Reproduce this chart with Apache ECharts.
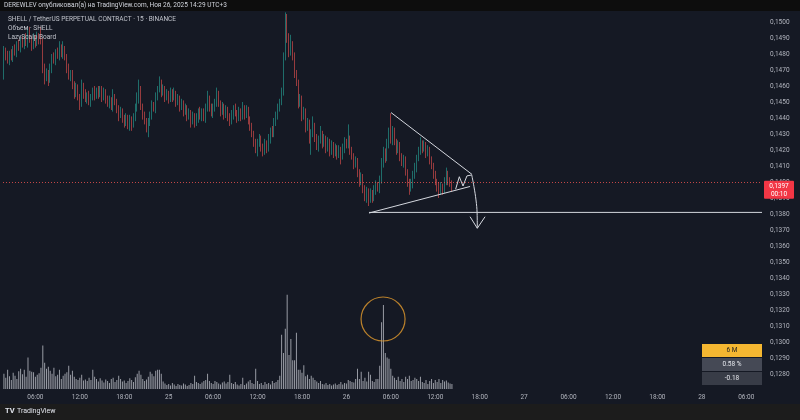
<!DOCTYPE html>
<html><head><meta charset="utf-8">
<script src="https://cdn.jsdelivr.net/npm/echarts@6/dist/echarts.min.js"></script>
<style>html,body{margin:0;padding:0;background:#0d0d0d}#c{width:800px;height:420px}</style>
</head><body><div id="c"></div><script>
// ---- data ----
const slotCount = 410;               // 15-min slots from 24 Nov 01:45 to 28 Nov ~08:15
const firstOpen = 0.1466;
const closes = [
0.1482,0.1479,0.1476,0.1480,0.1478,0.1483,0.1481,0.1486,0.1484,0.1488,
0.1486,0.1490,0.1487,0.1492,0.1489,0.1485,0.1490,0.1487,0.1491,0.1489,
0.1488,0.1472,0.1465,0.1468,0.1464,0.1471,0.1478,0.1476,0.1481,0.1479,
0.1484,0.1480,0.1483,0.1478,0.1471,0.1466,0.1468,0.1460,0.1456,0.1459,
0.1453,0.1449,0.1460,0.1455,0.1452,0.1454,0.1450,0.1453,0.1456,0.1454,
0.1457,0.1455,0.1458,0.1453,0.1456,0.1452,0.1449,0.1451,0.1447,0.1453,
0.1450,0.1446,0.1442,0.1444,0.1440,0.1437,0.1440,0.1436,0.1439,0.1436,
0.1441,0.1446,0.1452,0.1458,0.1447,0.1442,0.1438,0.1434,0.1437,0.1442,
0.1448,0.1446,0.1453,0.1458,0.1462,0.1456,0.1458,0.1453,0.1455,0.1452,
0.1456,0.1453,0.1455,0.1450,0.1452,0.1447,0.1449,0.1444,0.1446,0.1441,
0.1443,0.1438,0.1441,0.1437,0.1440,0.1444,0.1441,0.1444,0.1440,0.1446,
0.1452,0.1447,0.1443,0.1446,0.1450,0.1455,0.1449,0.1444,0.1447,0.1442,
0.1445,0.1441,0.1438,0.1442,0.1446,0.1443,0.1440,0.1444,0.1441,0.1446,
0.1442,0.1445,0.1439,0.1435,0.1430,0.1425,0.1421,0.1424,0.1427,0.1422,
0.1419,0.1424,0.1421,0.1427,0.1432,0.1430,0.1437,0.1442,0.1446,0.1450,
0.1456,0.1478,0.1497,0.1490,0.1481,0.1486,0.1479,0.1468,0.1462,0.1449,
0.1452,0.1441,0.1444,0.1434,0.1437,0.1427,0.1430,0.1435,0.1428,0.1422,
0.1426,0.1430,0.1424,0.1427,0.1421,0.1425,0.1419,0.1423,0.1418,0.1421,
0.1417,0.1420,0.1416,0.1421,0.1425,0.1423,0.1427,0.1420,0.1416,0.1411,
0.1413,0.1406,0.1400,0.1403,0.1396,0.1391,0.1394,0.1390,0.1393,0.1390,
0.1395,0.1398,0.1396,0.1401,0.1412,0.1418,0.1415,0.1424,0.1430,0.1426,
0.1432,0.1425,0.1420,0.1423,0.1416,0.1412,0.1414,0.1406,0.1400,0.1396,
0.1399,0.1404,0.1409,0.1415,0.1419,0.1424,0.1421,0.1423,0.1418,0.1420,
0.1414,0.1410,0.1405,0.1400,0.1397,0.1394,0.1397,0.1395,0.1400,0.1405,
0.1401,0.1399,0.1397
];
// wick lengths above / below the candle body, in price steps of 0.0001
const wickUpSteps = [
3,2,3,2,3,2,3,2,3,2, 3,2,3,4,5,2,3,2,3,2, 8,2,2,3,2,3,2,3,2,3, 4,2,5,2,2,3,2,2,3,3,
2,2,4,2,3,2,3,2,3,4, 2,3,2,2,3,2,2,3,2,5, 2,2,2,3,2,2,3,2,3,2, 2,3,4,6,2,2,2,2,3,2,
3,2,3,2,4,2,3,2,3,2, 3,2,4,2,3,2,3,2,3,2, 3,2,3,2,3,2,3,2,2,3, 5,2,2,3,2,4,2,2,3,2,
3,2,2,3,2,3,2,3,2,4, 2,3,2,2,2,2,2,3,3,2, 2,3,2,3,2,3,3,2,3,2, 3,3,9,8,3,6,2,2,2,2,
3,2,3,2,3,2,3,6,2,2, 3,5,2,3,2,3,2,3,2,3, 2,3,2,3,3,2,9,2,2,2, 3,2,2,3,2,2,3,2,3,2,
3,3,2,3,3,4,3,3,4,13, 3,2,2,3,2,2,3,2,2,2, 3,3,3,2,3,4,2,3,2,3, 2,2,2,2,2,3,3,2,3,4,
2,2,2
];
const wickDownSteps = [
2,3,2,3,2,3,2,3,2,3, 2,3,2,3,2,3,2,3,2,3, 2,4,4,2,4,2,3,2,3,2, 3,2,3,2,3,2,3,2,4,3,
2,4,2,3,2,3,2,3,2,3, 2,3,2,3,2,3,2,3,2,3, 2,3,4,2,3,3,2,3,4,4, 2,3,2,3,2,3,2,3,6,2,
3,2,3,2,2,3,2,3,2,3, 2,3,2,3,2,3,2,3,2,3, 2,4,2,3,2,3,2,3,2,3, 2,3,2,3,2,3,2,3,2,3,
2,3,3,2,3,2,3,2,3,2, 3,2,3,3,2,3,3,5,2,3, 3,2,3,2,3,2,2,2,3,2, 2,2,2,3,3,2,3,3,2,3,
2,3,2,3,2,3,10,2,3,2, 3,2,3,2,3,2,3,2,3,2, 3,2,5,2,3,2,2,3,2,3, 2,3,3,2,3,3,4,5,3,3,
2,3,2,3,2,3,3,2,3,2, 3,2,3,2,3,2,3,2,3,4, 2,3,2,3,2,2,3,2,3,2, 3,2,3,2,3,4,2,3,2,2,
3,2,3
];
// volume in thousands
const volumesK = [
300,220,380,250,180,320,260,200,350,400, 290,380,240,620,360,340,330,240,280,310,
420,860,520,400,440,360,300,420,250,280, 380,200,260,300,330,460,280,360,240,200,
180,220,280,170,190,160,220,180,380,240, 200,150,210,170,130,190,160,120,200,220,
140,180,260,200,150,170,120,160,210,180, 140,230,300,360,280,200,160,190,240,340,
300,250,360,380,380,300,150,110,80,100, 70,120,90,60,100,80,70,110,90,60,
80,120,100,260,140,120,100,130,160,180, 300,160,120,100,160,140,110,90,130,150,
110,140,280,120,100,140,90,70,100,220, 80,110,150,180,120,100,400,160,100,120,
80,140,100,120,90,160,120,140,180,260, 1070,710,1190,1860,670,990,570,570,1110,380,
380,320,470,250,280,200,260,220,180,150, 120,160,100,90,120,80,100,70,90,110,
80,100,140,90,120,110,180,160,140,130, 200,400,200,340,160,220,150,340,280,160,
140,200,200,460,1320,1660,710,620,600,400, 260,220,180,240,160,200,140,240,200,260,
160,180,220,200,160,240,140,120,180,100, 160,200,120,180,140,200,120,180,150,170,
130,110,98.79
];
const lastPrice = 0.1397;
const countdown = '00:10';
const levelPrice = 0.1381;
const lastVolumeK = 98.79;
// chart drawings as [slot index, price]
const triangleUpper = [[209.1, 0.14434], [252.9, 0.14047]];
const triangleLower = [[197.2, 0.13806], [251.8, 0.13972]];
const levelLine = [[197.2, 0.1381], [409.5, 0.1381]];
const zigzag = [[244.0, 0.13955], [246.0, 0.14033], [248.0, 0.13975], [250.1, 0.14038], [252.7, 0.14044]];
const arrowPath = [[252.7, 0.14044], [253.9, 0.13971], [255.0, 0.13888], [255.6, 0.13806], [255.7, 0.13711]];
const arrowHead = [[251.8, 0.13783], [255.7, 0.13711], [259.9, 0.13783]];
const volumeCircle = [[204.8, 1383]];

// ---- build ----
const pad = n => (n < 10 ? '0' : '') + n;
const categories = [];
const t0 = Date.UTC(2025, 10, 24, 1, 45);
for (let k = 0; k < slotCount; k++) {
  const d = new Date(t0 + k * 900000);
  categories.push(pad(d.getUTCDate()) + ' ' + pad(d.getUTCHours()) + ':' + pad(d.getUTCMinutes()));
}
const candles = closes.map((c, i) => {
  const o = i === 0 ? firstOpen : closes[i - 1];
  const hi = Math.max(o, c) + wickUpSteps[i] * 0.0001;
  const lo = Math.min(o, c) - wickDownSteps[i] * 0.0001;
  return [o, c, lo, hi];
});
const FONT = 'Roboto, "Noto Sans", sans-serif';
const fmtPrice = v => v.toFixed(4).replace('.', ',');

const chart = echarts.init(document.getElementById('c'), null, {renderer: 'canvas', width: 800, height: 420});
const drawStyle = {color: '#d4d7de', width: 1};
function drawing(data, smooth) {
  return {type: 'line', xAxisIndex: 2, yAxisIndex: 0, data, symbol: 'none', silent: true,
    smooth: smooth || false, lineStyle: drawStyle, z: 5};
}
chart.setOption({
  animation: false,
  backgroundColor: '#151924',
  textStyle: {fontFamily: FONT},
  grid: [
    {left: 3, right: 38, top: 6, height: 400},
    {left: 3, right: 38, top: 289, height: 100}
  ],
  xAxis: [
    {type: 'category', gridIndex: 0, data: categories, boundaryGap: true, show: false},
    {type: 'category', gridIndex: 1, data: categories, boundaryGap: true,
      axisLine: {show: false}, axisTick: {show: false}, splitLine: {show: false},
      axisLabel: {
        margin: 5, fontSize: 6.5, color: '#b2b5be', fontFamily: FONT,
        interval: (idx, val) => { const hm = val.split(' ')[1]; const h = +hm.slice(0, 2); return hm.slice(3) === '00' && h % 6 === 0; },
        formatter: val => { const p = val.split(' '); return p[1] === '00:00' ? String(+p[0]) : p[1]; }
      }},
    {type: 'value', gridIndex: 0, min: -0.5, max: slotCount - 0.5, show: false},
    {type: 'value', gridIndex: 1, min: -0.5, max: slotCount - 0.5, show: false}
  ],
  yAxis: [
    {type: 'value', gridIndex: 0, position: 'right', min: 0.126, max: 0.151, interval: 0.001,
      axisLine: {show: false}, axisTick: {show: false}, splitLine: {show: false},
      axisLabel: {margin: 8, fontSize: 6.5, color: '#b2b5be', fontFamily: FONT,
        formatter: v => (v > 0.15005 || v < 0.12795) ? '' : fmtPrice(v)}},
    {type: 'value', gridIndex: 1, min: 0, max: 1976, show: false}
  ],
  series: [
    {type: 'candlestick', xAxisIndex: 0, yAxisIndex: 0, data: candles, barWidth: 1,
      itemStyle: {color: '#26a69a', color0: '#ef5350', borderColor: '#26a69a', borderColor0: '#ef5350', borderWidth: 0.6},
      markLine: {silent: true, symbol: 'none', animation: false,
        data: [{yAxis: lastPrice}],
        lineStyle: {color: '#ef5350', type: [1, 2], width: 1, opacity: 0.8},
        label: {show: false}}},
    {type: 'bar', xAxisIndex: 1, yAxisIndex: 1, data: volumesK, barWidth: 1,
      itemStyle: {color: 'rgba(196,199,207,0.75)'},
      markLine: {silent: true, symbol: 'none', animation: false, data: [{yAxis: lastVolumeK}],
        lineStyle: {opacity: 0},
        label: {position: 'end', distance: 2, formatter: lastVolumeK.toFixed(2).replace('.', ',') + ' K',
          backgroundColor: '#d1d4dc', color: '#131722', fontSize: 6.5, padding: [2, 3], fontFamily: FONT}}},
    drawing(triangleUpper),
    drawing(triangleLower),
    Object.assign(drawing(levelLine), {
      markLine: {silent: true, symbol: 'none', animation: false, data: [{yAxis: levelPrice}],
        lineStyle: {opacity: 0},
        label: {position: 'end', distance: 2, formatter: fmtPrice(levelPrice),
          backgroundColor: '#d1d4dc', color: '#131722', fontSize: 6.5, padding: [2, 5], fontFamily: FONT}}}),
    drawing(zigzag),
    drawing(arrowPath, 0.4),
    drawing(arrowHead),
    {type: 'scatter', xAxisIndex: 3, yAxisIndex: 1, data: volumeCircle, symbol: 'circle', symbolSize: 44, silent: true,
      itemStyle: {color: 'rgba(0,0,0,0)', borderColor: '#e39b2d', borderWidth: 1.2}, z: 6}
  ]
});
// price tag placed at the last price through the axis scale
const py = chart.convertToPixel({yAxisIndex: 0}, lastPrice);
chart.setOption({
  graphic: [
    {type: 'rect', shape: {x: 0, y: 0, width: 800, height: 11}, style: {fill: '#0d0d0d'}, z: 100},
    {type: 'text', x: 4, y: 5.5, style: {text: 'DEREWLEV опубликовал(а) на TradingView.com, Ноя 26, 2025 14:29 UTC+3',
      fill: '#d1d4dc', fontSize: 6.5, fontFamily: FONT, verticalAlign: 'middle'}, z: 101},
    {type: 'rect', shape: {x: 0, y: 404, width: 800, height: 16}, style: {fill: '#1c1c1c'}, z: 100},
    {type: 'text', x: 5, y: 411.5, style: {text: 'TV', fill: '#e0e3eb', fontSize: 7.5, fontWeight: 'bold', fontFamily: FONT, verticalAlign: 'middle'}, z: 101},
    {type: 'text', x: 17, y: 411.5, style: {text: 'TradingView', fill: '#e0e3eb', fontSize: 7, fontFamily: FONT, verticalAlign: 'middle'}, z: 101},
    {type: 'text', x: 8, y: 19, style: {text: 'SHELL / TetherUS PERPETUAL CONTRACT · 15 · BINANCE', fill: '#c0c3cb', fontSize: 6.5, fontFamily: FONT, verticalAlign: 'middle'}, z: 101},
    {type: 'text', x: 8, y: 28, style: {text: 'Объем · SHELL', fill: '#c0c3cb', fontSize: 6.5, fontFamily: FONT, verticalAlign: 'middle'}, z: 101},
    {type: 'text', x: 8, y: 37, style: {text: 'LazyScalp Board', fill: '#c0c3cb', fontSize: 6.5, fontFamily: FONT, verticalAlign: 'middle'}, z: 101},
    {type: 'rect', shape: {x: 702, y: 344, width: 60, height: 13}, style: {fill: '#f5b731'}, z: 100},
    {type: 'text', x: 732, y: 350.5, style: {text: '6 M', fill: '#1e1e1e', fontSize: 6.5, fontFamily: FONT, align: 'center', verticalAlign: 'middle'}, z: 101},
    {type: 'rect', shape: {x: 702, y: 358, width: 60, height: 13}, style: {fill: '#454955'}, z: 100},
    {type: 'text', x: 732, y: 364.5, style: {text: '0.58 %', fill: '#e6e8ee', fontSize: 6.5, fontFamily: FONT, align: 'center', verticalAlign: 'middle'}, z: 101},
    {type: 'rect', shape: {x: 702, y: 372, width: 60, height: 13}, style: {fill: '#383c47'}, z: 100},
    {type: 'text', x: 732, y: 378.5, style: {text: '-0.18', fill: '#e6e8ee', fontSize: 6.5, fontFamily: FONT, align: 'center', verticalAlign: 'middle'}, z: 101},
    {type: 'rect', shape: {x: 764, y: py - 6, width: 30, height: 18, r: 1}, style: {fill: '#f23645'}, z: 100},
    {type: 'text', x: 779, y: py, style: {text: fmtPrice(lastPrice), fill: '#ffffff', fontSize: 6.5, fontFamily: FONT, align: 'center', verticalAlign: 'middle'}, z: 101},
    {type: 'text', x: 779, y: py + 8, style: {text: countdown, fill: '#ffffff', fontSize: 6.5, fontFamily: FONT, align: 'center', verticalAlign: 'middle'}, z: 101}
  ]
});
</script></body></html>
